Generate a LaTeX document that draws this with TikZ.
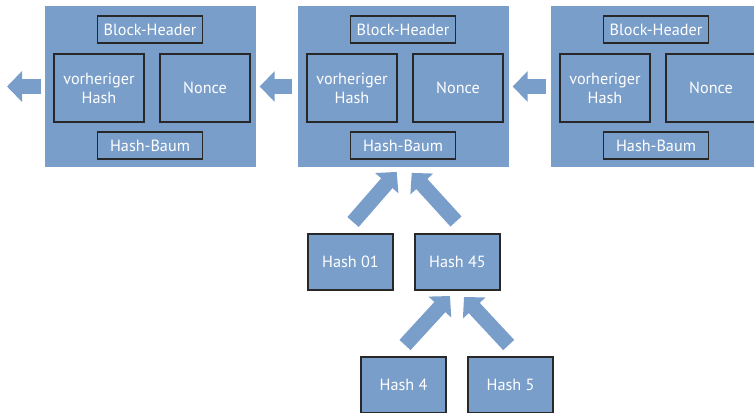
\documentclass[tikz,border=0pt]{standalone}
\usepackage{fontspec}
\setmainfont{PT Sans}
\usepackage{tikz}
\usetikzlibrary{arrows.meta,calc}
\definecolor{chainblue}{RGB}{122,158,202}
\definecolor{edgegray}{RGB}{40,40,40}

\begin{document}
\begin{tikzpicture}[x=1pt,y=-1pt]
\tikzstyle{every node}+=[inner sep=0pt, text=white, font=\fontsize{16.2}{19}\selectfont, align=center]
\tikzstyle{block}=[fill=chainblue, minimum width=211pt, minimum height=161pt]
\tikzstyle{field}=[draw=edgegray, line width=1.3pt, fill=chainblue]
\tikzstyle{hashbox}=[draw=edgegray, line width=2pt, fill=chainblue, minimum width=85pt, minimum height=56pt]
\tikzstyle{fatarrow}=[draw=chainblue, line width=15pt, -{Triangle[length=15pt,width=30pt]}]
\useasboundingbox (0,0) rectangle (754,412);
\foreach \i/\x in {1/150,2/403,3/656} {
  \node [block] (blk\i) at (\x,86.5) {};
  \node [field, minimum width=105pt, minimum height=27pt] (head\i) at (\x,29.5) {Block-Header};
  \node [field, minimum width=90pt, minimum height=68pt] (prev\i) at (\x-51,88) {vorheriger\\Hash};
  \node [field, minimum width=90pt, minimum height=68pt] (nonce\i) at (\x+55,88) {Nonce};
  \node [field, minimum width=105pt, minimum height=27pt] (tree\i) at (\x,145.5) {Hash-Baum};
}
\node [hashbox] (h01) at (350.5,262) {Hash 01};
\node [hashbox] (h45) at (457.5,262) {Hash 45};
\node [hashbox] (h4) at (403.5,385) {Hash 4};
\node [hashbox] (h5) at (510.5,385) {Hash 5};
\coordinate (lefttip) at (7,86.5);
\draw [fatarrow, shorten <=3pt] (blk1.west) -- (lefttip);
\draw [fatarrow, shorten <=5pt, shorten >=4pt] (blk2.west) -- (blk1.east);
\draw [fatarrow, shorten <=4pt, shorten >=4pt] (blk3.west) -- (blk2.east);
\draw [fatarrow] ($(h01.north)+(2.5,-11)$) -- ($(blk2.south)+(-6.3,4.7)$);
\draw [fatarrow] ($(h45.north)+(-1.5,-11.5)$) -- ($(blk2.south)+(8.7,5.7)$);
\draw [fatarrow] ($(h4.north)+(1.5,-11)$) -- ($(h45.south)+(-7.5,5)$);
\draw [fatarrow] ($(h5.north)+(-1.8,-11)$) -- ($(h45.south)+(6.5,6)$);
\end{tikzpicture}
\end{document}
